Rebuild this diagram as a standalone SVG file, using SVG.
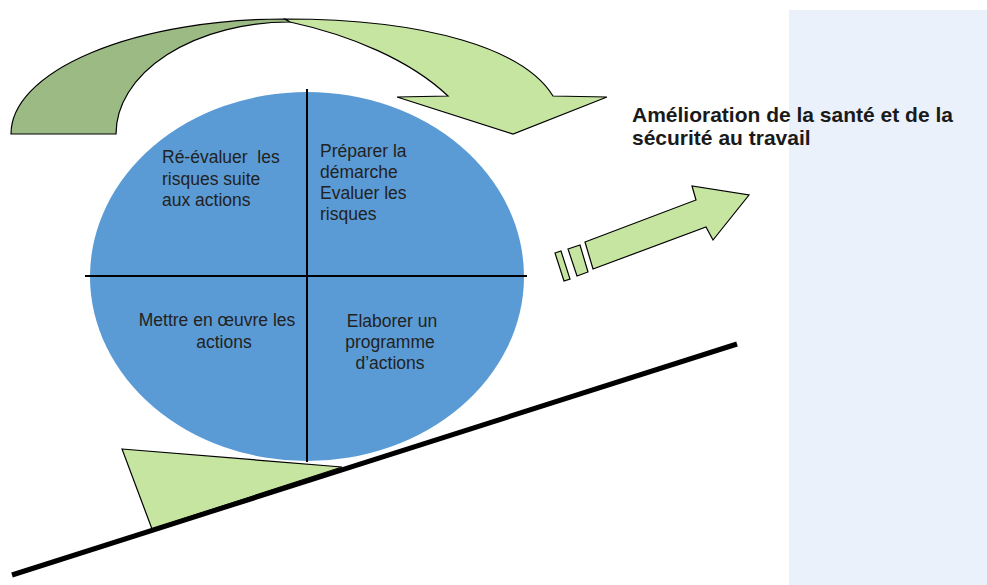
<svg xmlns="http://www.w3.org/2000/svg" width="987" height="585" viewBox="0 0 987 585">
<style>
.q{font-family:"Liberation Sans",Arial,sans-serif;font-size:17.5px;fill:#222}
.t{font-family:"Liberation Sans",Arial,sans-serif;font-size:21px;font-weight:bold;fill:#1a1a1a}
.lg{fill:#C5E5A0;stroke:#000;stroke-width:1.2;stroke-linejoin:miter}
.dg{fill:#9CBB84;stroke:#000;stroke-width:1.2}
.ln{stroke:#000;stroke-width:2;fill:none}
</style>
<rect id="panel" x="789" y="10" width="198" height="575" fill="#EAF1FA"/>
<g id="connectors">
<g id="cycle-arrow">
<path class="dg" d="M11,134 A274,115 0 0 1 285,19 L290,22 A174,112 0 0 0 116,134 Z"/>
<path class="lg" d="M285,19 C430,19 525,50 553,96 L607,97 L513,134 L397,97 L448,96 C410,60 350,35 290,22 Z"/>
</g>
<g id="progress-arrow">
<polygon class="lg" points="585,242 696,200 692,186 749,195 713,240 706,227 593,269"/>
<polygon class="lg" points="568,249 580,245 588,272 577,276"/>
<polygon class="lg" points="555,253 561,251 570,279 564,281"/>
</g>
</g>
<g id="cycle">
<ellipse cx="307" cy="276.5" rx="217" ry="184.5" fill="#5B9BD5"/>
<line class="ln" x1="307" y1="89" x2="307" y2="462"/>
<line class="ln" x1="85" y1="276" x2="527" y2="276"/>
</g>
<g id="node-reevaluer">
<text class="q" x="162" y="163">Ré-évaluer&#160; les</text>
<text class="q" x="162" y="185">risques suite</text>
<text class="q" x="162" y="206">aux actions</text>
</g>
<g id="node-preparer">
<text class="q" x="320" y="157">Préparer la</text>
<text class="q" x="320" y="178">démarche</text>
<text class="q" x="320" y="199">Evaluer les</text>
<text class="q" x="320" y="220">risques</text>
</g>
<g id="node-mettre">
<text class="q" x="217" y="326" text-anchor="middle">Mettre en œuvre les</text>
<text class="q" x="224" y="348" text-anchor="middle">actions</text>
</g>
<g id="node-elaborer">
<text class="q" x="392" y="327" text-anchor="middle">Elaborer un</text>
<text class="q" x="390" y="348" text-anchor="middle">programme</text>
<text class="q" x="390" y="369" text-anchor="middle">d’actions</text>
</g>
<g id="wedge">
<polygon class="lg" stroke-width="1.6" points="122,449 342,467 152,529"/>
</g>
<line id="slope" x1="12" y1="575" x2="737" y2="344" stroke="#000" stroke-width="5"/>
<g id="title">
<text class="t" x="632" y="122">Amélioration de la santé et de la</text>
<text class="t" x="632" y="145">sécurité au travail</text>
</g>
</svg>
